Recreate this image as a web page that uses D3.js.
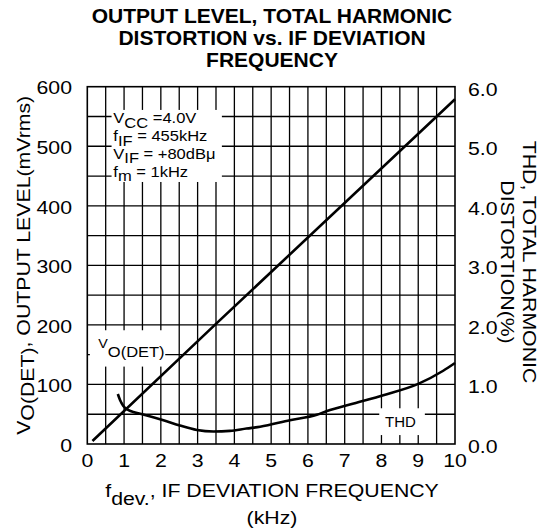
<!DOCTYPE html>
<html>
<head>
<meta charset="utf-8">
<script src="https://cdn.jsdelivr.net/npm/d3@7"></script>
<style>
  body { margin: 0; background: #fff; }
  svg { display: block; }
  text { font-family: "Liberation Sans", Arial, Helvetica, sans-serif; fill: #000; }
</style>
</head>
<body>
<svg id="chart" width="544" height="531"></svg>
<script>
// Valeurs
const voFreq = [0.14, 3.47, 10];
const voLevel = [5, 200, 579];

const thdFreq = [0.83, 0.89, 0.98, 1.12, 1.3, 1.62, 2.07, 2.52, 2.98, 3.43, 3.88, 4.33, 4.7, 5.51, 6.24, 6.5, 7.3, 8.05, 9.0, 9.68, 10];
const thdValue = [0.84, 0.74, 0.64, 0.57, 0.53, 0.48, 0.40, 0.31, 0.235, 0.21, 0.22, 0.26, 0.29, 0.40, 0.49, 0.55, 0.69, 0.82, 1.01, 1.23, 1.36];

const xTicks = [0, 1, 2, 3, 4, 5, 6, 7, 8, 9, 10];
const leftTicks = [0, 100, 200, 300, 400, 500, 600];
const rightTicks = [0, 1, 2, 3, 4, 5, 6];

const titleLines = ["OUTPUT LEVEL, TOTAL HARMONIC", "DISTORTION vs. IF DEVIATION", "FREQUENCY"];
const conditions = [
  ["V", "CC", " =4.0V"],
  ["f", "IF", " = 455kHz"],
  ["V", "IF", " = +80dBμ"],
  ["f", "m", " = 1kHz"]
];

const svg = d3.select("#chart");
const plot = { left: 87.3, right: 455, top: 86.7, bottom: 444 };

const x = d3.scaleLinear().domain([0, 10]).range([plot.left, plot.right]);
const y = d3.scaleLinear().domain([0, 600]).range([plot.bottom, plot.top]);
const yR = d3.scaleLinear().domain([0, 6]).range([plot.bottom, plot.top]);

// texte étiré horizontalement (police large du datasheet)
function addText(px, py, opts, parts) {
  const g = svg.append("g")
    .attr("transform", `translate(${px},${py}) rotate(${opts.rot || 0}) scale(${opts.sx || 1},1)`);
  const t = g.append("text")
    .attr("text-anchor", opts.anchor || "start")
    .style("font-size", (opts.size || 19) + "px")
    .style("font-weight", opts.bold ? "bold" : "normal");
  let shift = 0;
  parts.forEach(p => {
    const target = p.dy || 0;
    const ts = t.append("tspan").text(p.t).attr("dy", target - shift);
    if (p.size) ts.style("font-size", p.size + "px");
    shift = target;
  });
  return t;
}

// Grille
const grid = svg.append("g").attr("stroke", "#000").attr("stroke-width", 1.3);
grid.selectAll(".vline")
  .data(d3.range(0.5, 10, 0.5))
  .enter().append("line")
  .attr("x1", d => x(d)).attr("x2", d => x(d))
  .attr("y1", plot.top).attr("y2", plot.bottom);
grid.selectAll(".hline")
  .data(d3.range(50, 600, 50))
  .enter().append("line")
  .attr("x1", plot.left).attr("x2", plot.right)
  .attr("y1", d => y(d)).attr("y2", d => y(d));

// Cartouches blancs
function whiteBox(f0, f1, v0, v1) {
  svg.append("rect")
    .attr("x", x(f0)).attr("y", y(v0))
    .attr("width", x(f1) - x(f0)).attr("height", y(v1) - y(v0))
    .attr("fill", "#fff");
}
whiteBox(0.66, 3.66, 561, 440);
whiteBox(0.07, 2.12, 191, 130);
whiteBox(7.94, 9.18, 60, 15);

svg.append("rect")
  .attr("x", plot.left).attr("y", plot.top)
  .attr("width", plot.right - plot.left).attr("height", plot.bottom - plot.top)
  .attr("fill", "none").attr("stroke", "#000").attr("stroke-width", 1.6);

// Courbes
svg.append("path")
  .datum(voFreq.map((f, i) => [f, voLevel[i]]))
  .attr("fill", "none").attr("stroke", "#000").attr("stroke-width", 2.6)
  .attr("d", d3.line().x(d => x(d[0])).y(d => y(d[1])));

svg.append("path")
  .datum(thdFreq.map((f, i) => [f, thdValue[i]]))
  .attr("fill", "none").attr("stroke", "#000").attr("stroke-width", 2.6)
  .attr("stroke-linejoin", "round")
  .attr("d", d3.line().curve(d3.curveMonotoneX).x(d => x(d[0])).y(d => yR(d[1])));

// Axes (graduations)
xTicks.forEach(d => addText(x(d), plot.bottom + 22.7, { anchor: "middle", sx: 1.12 }, [{ t: String(d) }]));
leftTicks.forEach(d => addText(72, y(d) + 7.7, { anchor: "end", sx: 1.12 }, [{ t: String(d) }]));
rightTicks.forEach(d => addText(468, yR(d) + 9, { sx: 1.12 }, [{ t: d.toFixed(1) }]));

// Titre
titleLines.forEach((l, i) => addText(272, 23.3 + i * 21.7, { anchor: "middle", size: 21, bold: true }, [{ t: l }]));

// Titres d'axes
addText(272, 496.7, { anchor: "middle", size: 18.5, sx: 1.15 },
  [{ t: "f" }, { t: "dev.", dy: 8 }, { t: ", IF DEVIATION FREQUENCY" }]);
addText(272, 524, { anchor: "middle", size: 18.5, sx: 1.15 }, [{ t: "(kHz)" }]);

addText(30, (plot.top + plot.bottom) / 2, { anchor: "middle", size: 18.5, sx: 1.15, rot: -90 },
  [{ t: "V" }, { t: "O(DET)", dy: 4 }, { t: ", OUTPUT LEVEL(mVrms)" }]);

addText(523, 262, { anchor: "middle", size: 18.5, sx: 1.15, rot: 90 }, [{ t: "THD, TOTAL HARMONIC" }]);
addText(501, 262, { anchor: "middle", size: 18.5, sx: 1.15, rot: 90 }, [{ t: "DISTORTION(%)" }]);

// Conditions de mesure
conditions.forEach((c, i) => addText(113.3, 123.3 + i * 17.8, { size: 14, sx: 1.18 },
  [{ t: c[0] }, { t: c[1], dy: 4.5 }, { t: c[2] }]));

// Légendes des courbes
addText(98.3, 348.3, { size: 13, sx: 1.1 }, [{ t: "V" }, { t: "O(DET)", dy: 8.4, size: 15 }]);
addText(385, 427.3, { size: 15 }, [{ t: "THD" }]);
</script>
</body>
</html>
